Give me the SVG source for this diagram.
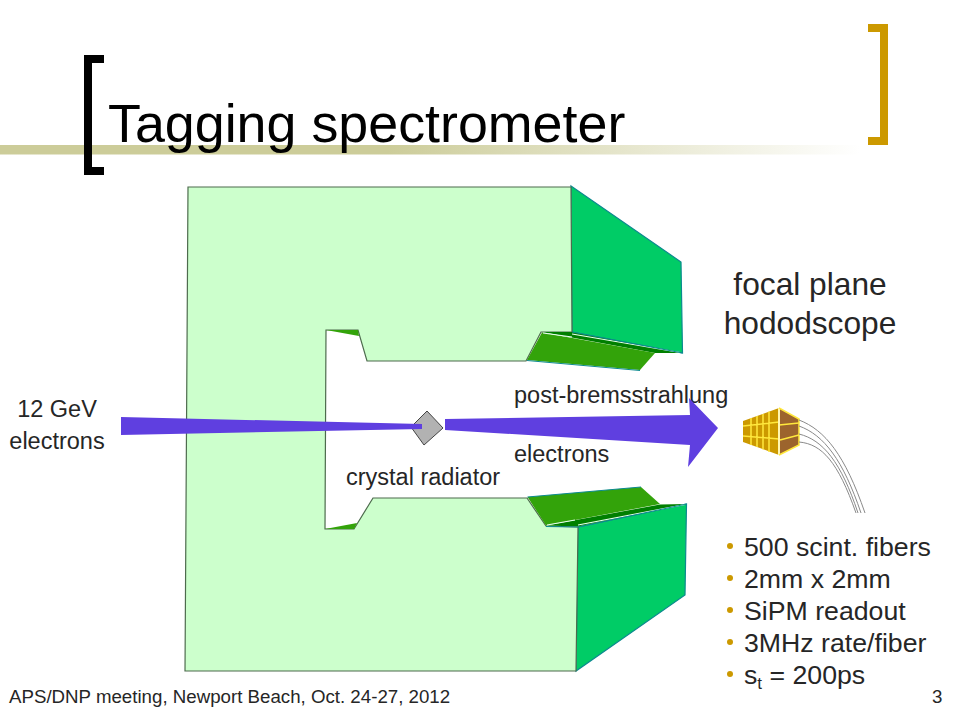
<svg xmlns="http://www.w3.org/2000/svg" width="960" height="720" viewBox="0 0 960 720">
<style>
text{font-family:"Liberation Sans",Arial,sans-serif;fill:#262626}
.b{font-size:26.7px}
.l{font-size:23.5px}
.f{font-size:31.7px;text-anchor:middle}
.dot{fill:#cc9900}
.mid{fill:#33a30a}
.dark{fill:#007f00}
.bright{fill:#00cc66;stroke:#0b8a8f;stroke-width:1.2}
.w{stroke:#e8fff0;stroke-width:1.1;fill:none}
.e{stroke:#0b8a8f;stroke-width:1;fill:none}
.y{stroke:#ffe83c;stroke-width:1.5;fill:none}
.fib{stroke:#8a8a8a;stroke-width:1;fill:none}
</style>
<defs>
<linearGradient id="bar" x1="0" x2="1" y1="0" y2="0">
<stop offset="0" stop-color="#cccc99"/><stop offset="0.45" stop-color="#cccc99"/><stop offset="1" stop-color="#ffffff"/>
</linearGradient>
</defs>
<rect width="960" height="720" fill="#fff"/>
<g id="title">
<rect x="0" y="145" width="860" height="9.500" fill="url(#bar)"/>
<path d="M84 55H104V63H92V167H104V175H84Z" fill="#000"/>
<path d="M868 24H888V145H868V137H880V32H868Z" fill="#cc9900"/>
<text x="108" y="142" style="font-size:53.8px;fill:#000">Tagging spectrometer</text>
</g>
<g id="magnet">
<polygon class="bright" points="571,186 681,262 682.500,353 572,332"/>
<polygon class="bright" points="578,527 686.500,504 685,595 576,671"/>
<polygon points="188,187 571,187 572,332 541,332 526,361 367,361 358,330 326,330 325,529 354,529 373,498 527,498 546,526 578,527 576,671 185,671" fill="#ccffcc" stroke="#4d6b4d" stroke-width="1.200"/>
<polygon class="dark" points="542,332 572,332 682,353 655,353"/>
<polygon class="mid" points="527,360 542,332.500 655,353 640,370"/>
<path class="w" d="M572 334L680 352.500M543 333L572 337"/>
<path class="e" d="M527 360.500L640 370.500M572 332L682.500 353"/>
<polygon class="dark" points="546,525.500 660,504.500 686,504 578,526.500"/>
<polygon class="mid" points="527.500,497 641,487 660,504 546,525.500"/>
<path class="w" d="M578 525L685 504.500M547 525L575 520"/>
<path class="e" d="M527.500 497L641 487M546 526.500L578 527M578 527L686.500 504"/>
<polygon class="mid" points="326,330 358,330 359,336"/>
<polygon class="mid" points="325,529 354,529 357,523"/>
</g>
<g id="crystal">
<polygon points="427,411 443,428 424,445 411,427" fill="#b2b2b2" stroke="#444" stroke-width="1"/>
</g>
<g id="labels-beam">
<text class="l" x="514" y="403">post-bremsstrahlung</text>
<text class="l" x="514" y="462">electrons</text>
<text class="l" x="346" y="485">crystal radiator</text>
<text class="l" x="57" y="417" text-anchor="middle">12 GeV</text>
<text class="l" x="57" y="449" text-anchor="middle">electrons</text>
</g>
<g id="beams">
<polygon points="121,417 422,424 422,429 121,435" fill="#5f3fe0"/>
<polygon points="445,419 690,415 689,398 718,428 688,467 690,445 445,430" fill="#5f3fe0"/>
</g>
<g id="hodoscope">
<polygon points="743,421 779,408 779,455 743,442" fill="#cc9900"/>
<polygon points="779,408 799,419 799,445 779,455" fill="#9c642d"/>
<path class="y" d="M751 418V445M757 416V447M763 414V449.500M769 411.500V452M743 426L779 422M743 436L779 439M779 425L799 423M780 440L799 435"/>
<path d="M779 408V455" stroke="#fff6b0" stroke-width="2"/>
<path class="y" d="M779 408L799 419V445L779 455" stroke-width="0.800"/>
<path class="fib" d="M799 420C825 430 845 455 865 513"/>
<path class="fib" d="M799 426C824 435 843 460 861 513"/>
<path class="fib" d="M799 434C823 440 841 462 858 513"/>
<path class="fib" d="M799 442C822 444 838 462 856 513"/>
</g>
<g id="focal-label">
<text class="f" x="810" y="295">focal plane</text>
<text class="f" x="810" y="334">hododscope</text>
</g>
<g id="specs">
<circle class="dot" cx="730" cy="546" r="3"/><text class="b" x="744" y="556">500 scint. fibers</text>
<circle class="dot" cx="730" cy="578" r="3"/><text class="b" x="744" y="588">2mm x 2mm</text>
<circle class="dot" cx="730" cy="610" r="3"/><text class="b" x="744" y="620">SiPM readout</text>
<circle class="dot" cx="730" cy="642" r="3"/><text class="b" x="744" y="652">3MHz rate/fiber</text>
<circle class="dot" cx="730" cy="674" r="3"/><text class="b" x="744" y="684">s<tspan dy="5" style="font-size:17px">t</tspan><tspan dy="-5"> = 200ps</tspan></text>
</g>
<g id="footer">
<text x="9" y="703" style="font-size:18.7px">APS/DNP meeting, Newport Beach, Oct. 24-27, 2012</text>
<text x="932" y="703" style="font-size:18.7px">3</text>
</g>
</svg>
